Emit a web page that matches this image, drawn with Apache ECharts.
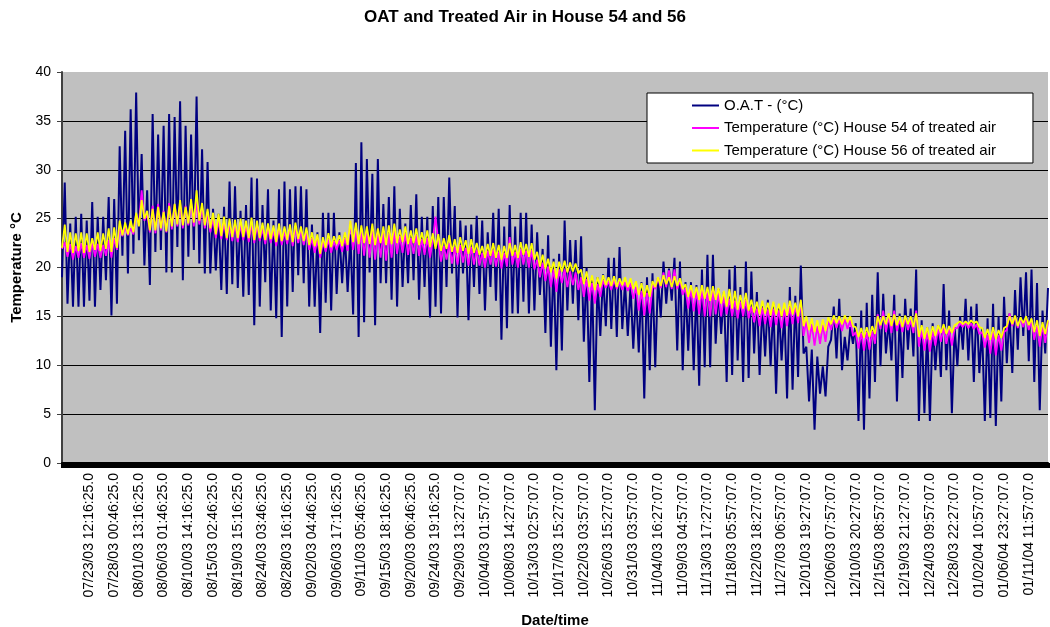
<!DOCTYPE html>
<html>
<head>
<meta charset="utf-8">
<script src="https://cdn.jsdelivr.net/npm/echarts@6/dist/echarts.min.js"></script>
<style>
  html, body { margin: 0; padding: 0; background: #fff; }
  #chart { width: 1050px; height: 627px; }
</style>
</head>
<body>
<div id="chart"></div>
<script>
// x axis tick labels (one every ~4.5 days)
const tickLabels = [
  "07/23/03 12:16:25.0", "07/28/03 00:46:25.0", "08/01/03 13:16:25.0", "08/06/03 01:46:25.0",
  "08/10/03 14:16:25.0", "08/15/03 02:46:25.0", "08/19/03 15:16:25.0", "08/24/03 03:46:25.0",
  "08/28/03 16:16:25.0", "09/02/03 04:46:25.0", "09/06/03 17:16:25.0", "09/11/03 05:46:25.0",
  "09/15/03 18:16:25.0", "09/20/03 06:46:25.0", "09/24/03 19:16:25.0", "09/29/03 13:27:07.0",
  "10/04/03 01:57:07.0", "10/08/03 14:27:07.0", "10/13/03 02:57:07.0", "10/17/03 15:27:07.0",
  "10/22/03 03:57:07.0", "10/26/03 15:27:07.0", "10/31/03 03:57:07.0", "11/04/03 16:27:07.0",
  "11/09/03 04:57:07.0", "11/13/03 17:27:07.0", "11/18/03 05:57:07.0", "11/22/03 18:27:07.0",
  "11/27/03 06:57:07.0", "12/01/03 19:27:07.0", "12/06/03 07:57:07.0", "12/10/03 20:27:07.0",
  "12/15/03 08:57:07.0", "12/19/03 21:27:07.0", "12/24/03 09:57:07.0", "12/28/03 22:27:07.0",
  "01/02/04 10:57:07.0", "01/06/04 23:27:07.0", "01/11/04 11:57:07.0"
];

// outdoor air temperature, two readings a day (night low / day high)
const oatTemp = [
  19.0, 28.7, 16.3, 24.5, 16.0, 25.2, 16.0, 25.5, 16.0, 24.8,
  16.6, 26.7, 16.0, 25.2, 17.7, 25.2, 18.7, 27.2, 15.1, 27.0,
  16.3, 32.4, 21.2, 34.0, 19.4, 36.2, 21.4, 37.9, 22.8, 31.6,
  20.2, 27.9, 18.2, 35.7, 21.6, 33.6, 21.8, 34.5, 19.5, 35.7,
  19.5, 35.4, 22.1, 37.0, 18.7, 34.5, 21.1, 33.6, 21.8, 37.5,
  20.4, 32.1, 19.4, 30.8, 19.4, 26.0, 19.7, 25.5, 17.7, 26.2,
  17.3, 28.8, 18.3, 28.3, 17.9, 25.8, 17.0, 26.4, 17.2, 29.2,
  14.1, 29.1, 16.0, 26.4, 18.5, 28.0, 15.6, 24.8, 14.8, 28.0,
  12.9, 28.8, 16.0, 28.0, 17.5, 28.3, 19.2, 28.3, 18.4, 28.0,
  16.0, 24.4, 16.0, 23.6, 13.3, 25.6, 16.4, 25.6, 15.6, 25.6,
  17.3, 23.6, 18.4, 23.4, 17.5, 23.4, 15.2, 30.7, 12.9, 32.8,
  14.4, 31.1, 19.5, 29.6, 14.1, 31.1, 18.4, 26.5, 18.4, 27.2,
  16.7, 28.3, 16.0, 26.0, 18.0, 24.5, 18.4, 26.4, 18.7, 27.5,
  16.7, 25.2, 18.0, 25.2, 14.9, 26.3, 16.0, 27.2, 15.3, 27.2,
  18.0, 29.2, 19.4, 26.3, 14.9, 24.8, 19.4, 24.3, 14.6, 24.4,
  18.0, 25.3, 17.3, 24.8, 15.6, 23.6, 18.0, 25.6, 16.6, 26.0,
  12.6, 24.2, 13.8, 26.4, 15.3, 24.2, 15.3, 25.6, 16.5, 25.6,
  15.3, 24.4, 15.6, 23.6, 17.2, 21.9, 13.3, 23.3, 11.9, 20.9,
  9.5, 21.4, 11.5, 24.8, 15.6, 22.8, 16.3, 22.8, 14.6, 23.2,
  12.4, 20.0, 8.3, 19.0, 5.4, 19.0, 13.0, 19.3, 14.0, 21.0,
  13.7, 21.0, 12.9, 22.1, 13.7, 18.5, 13.0, 18.2, 11.7, 17.5,
  11.3, 18.5, 6.6, 19.0, 9.5, 19.4, 9.8, 19.0, 14.9, 20.6,
  16.3, 19.9, 16.6, 21.0, 11.5, 20.6, 9.5, 18.5, 11.5, 18.5,
  9.5, 18.2, 7.9, 19.8, 9.8, 21.3, 9.8, 21.3, 12.2, 17.8,
  13.2, 17.5, 8.3, 19.8, 9.0, 20.2, 10.5, 18.0, 8.3, 20.6,
  8.7, 19.6, 11.2, 17.5, 9.0, 16.3, 10.9, 16.7, 9.9, 16.3,
  7.1, 16.0, 10.5, 15.6, 6.6, 18.0, 7.5, 17.1, 8.8, 20.2,
  11.2, 11.9, 6.3, 11.6, 3.4, 10.9, 7.1, 9.9, 6.8, 11.9,
  12.6, 16.0, 10.7, 16.8, 9.5, 12.9, 10.5, 13.9, 12.2, 14.3,
  4.3, 15.6, 3.4, 16.4, 6.6, 17.2, 8.3, 19.5, 9.9, 17.3,
  11.2, 14.6, 10.5, 17.2, 6.3, 15.3, 8.7, 16.8, 11.6, 15.8,
  10.9, 19.8, 4.3, 14.6, 5.1, 13.9, 4.3, 14.3, 9.5, 14.1,
  8.8, 18.3, 9.5, 15.6, 5.1, 13.9, 9.9, 15.0, 11.6, 16.8,
  10.5, 16.0, 8.3, 16.3, 9.2, 13.8, 4.3, 14.8, 4.6, 16.3,
  3.8, 15.0, 6.3, 17.0, 10.2, 15.3, 9.2, 17.7, 11.6, 19.0,
  13.0, 19.5, 10.4, 19.8, 8.3, 18.4, 5.4, 15.6, 11.2, 17.9
];

// treated air, house 54
const house54Temp = [
  21.9, 22.6, 21.1, 22.4, 20.8, 22.2, 21.0, 22.5, 21.0, 22.3,
  20.9, 22.6, 21.1, 22.4, 21.0, 22.3, 21.2, 22.8, 21.0, 23.0,
  21.8, 24.0, 23.2, 24.1, 23.3, 24.0, 23.4, 25.5, 24.4, 27.9,
  24.8, 25.5, 23.6, 26.3, 23.5, 26.5, 23.8, 25.8, 23.6, 26.6,
  23.9, 26.4, 24.2, 26.5, 24.0, 26.3, 24.3, 26.6, 24.2, 26.8,
  24.4, 26.2, 24.0, 25.6, 23.6, 25.0, 23.0, 24.9, 22.9, 24.6,
  22.8, 24.5, 22.7, 24.4, 22.6, 24.4, 22.8, 24.3, 22.6, 24.5,
  22.5, 24.3, 22.7, 24.0, 22.4, 24.0, 22.5, 23.8, 22.2, 24.1,
  22.3, 23.7, 22.4, 24.0, 22.2, 24.1, 22.5, 23.8, 22.3, 23.6,
  21.8, 23.0, 21.5, 22.8, 21.0, 22.6, 21.6, 22.9, 21.5, 22.7,
  21.8, 22.8, 21.6, 23.0, 21.7, 24.6, 21.8, 24.0, 21.4, 23.8,
  21.2, 23.7, 21.0, 23.9, 20.8, 23.5, 21.0, 23.6, 20.7, 23.5,
  21.0, 23.8, 21.4, 23.2, 21.5, 23.5, 21.3, 23.0, 21.4, 23.3,
  21.2, 22.9, 21.3, 23.0, 21.0, 22.8, 25.2, 22.6, 20.6, 22.2,
  20.8, 22.5, 20.4, 22.1, 20.3, 22.3, 20.5, 22.0, 20.2, 22.1,
  20.3, 21.8, 20.2, 21.5, 20.0, 21.7, 20.3, 21.8, 20.1, 21.6,
  19.9, 21.5, 20.1, 23.1, 20.3, 21.6, 20.0, 21.9, 20.3, 21.7,
  20.0, 21.8, 19.8, 20.8, 19.0, 20.5, 18.6, 20.1, 18.0, 19.8,
  17.5, 19.8, 18.4, 19.8, 18.0, 19.6, 18.2, 19.5, 17.7, 19.0,
  17.0, 18.8, 16.6, 18.4, 16.3, 18.3, 17.0, 18.7, 17.9, 18.6,
  17.7, 18.7, 17.8, 18.6, 17.7, 18.5, 17.6, 18.4, 16.8, 18.0,
  15.6, 17.6, 15.1, 17.4, 15.3, 18.2, 17.8, 19.0, 17.9, 19.5,
  18.0, 19.7, 17.8, 19.8, 17.8, 18.7, 17.2, 17.9, 15.8, 17.8,
  15.5, 17.6, 15.2, 17.8, 15.0, 17.5, 15.0, 17.6, 15.2, 17.4,
  15.0, 17.1, 15.2, 16.8, 15.0, 16.6, 14.8, 16.5, 15.0, 16.7,
  14.8, 16.0, 14.4, 15.8, 14.0, 15.9, 14.2, 15.7, 13.9, 15.8,
  14.1, 15.6, 13.8, 15.7, 14.0, 16.0, 14.2, 16.1, 14.3, 16.5,
  13.0, 14.5, 12.3, 14.2, 12.0, 14.0, 12.2, 14.1, 12.4, 14.6,
  13.6, 14.8, 13.8, 14.7, 13.5, 14.8, 13.7, 14.6, 13.0, 13.4,
  11.7, 13.3, 11.5, 13.4, 11.6, 13.5, 12.2, 15.2, 13.7, 15.6,
  13.4, 15.0, 13.3, 15.6, 13.5, 14.7, 13.4, 14.9, 13.6, 14.6,
  13.3, 15.6, 11.9, 13.6, 11.5, 13.4, 11.4, 13.5, 12.0, 13.8,
  12.4, 13.9, 12.2, 13.7, 12.0, 13.8, 13.8, 14.3, 13.9, 14.4,
  13.8, 14.3, 13.7, 14.2, 13.2, 13.4, 11.8, 13.2, 11.2, 13.4,
  11.0, 13.1, 11.5, 13.4, 13.6, 15.3, 14.0, 15.0, 13.8, 14.8,
  13.9, 14.9, 13.6, 14.6, 12.6, 14.0, 11.9, 14.1, 12.3, 14.5
];

// treated air, house 56
const house56Temp = [
  22.0, 24.4, 21.6, 23.6, 21.5, 23.5, 21.7, 23.6, 21.5, 23.5,
  21.6, 23.0, 21.8, 23.6, 21.7, 23.5, 21.9, 24.0, 21.6, 24.1,
  22.0, 24.8, 23.3, 24.6, 23.4, 24.8, 23.6, 25.6, 24.2, 26.9,
  25.0, 25.8, 23.8, 26.0, 23.8, 26.2, 24.0, 25.7, 23.7, 26.3,
  24.2, 26.5, 24.4, 26.9, 24.3, 26.2, 24.5, 27.0, 24.6, 27.9,
  24.8, 26.6, 24.3, 26.0, 24.0, 25.6, 23.4, 25.5, 23.2, 25.2,
  23.0, 25.0, 23.1, 24.9, 23.0, 25.0, 23.1, 24.8, 23.0, 25.1,
  22.8, 24.8, 23.0, 24.6, 22.8, 24.5, 22.9, 24.3, 22.6, 24.5,
  22.7, 24.2, 22.8, 24.4, 22.6, 24.6, 22.9, 24.2, 22.7, 24.1,
  22.3, 23.6, 22.2, 23.4, 21.4, 23.1, 22.0, 23.5, 22.1, 23.2,
  22.4, 23.3, 22.2, 23.6, 22.3, 24.8, 22.6, 24.6, 22.4, 24.3,
  22.5, 24.2, 22.4, 24.5, 22.3, 24.0, 22.5, 24.2, 22.3, 24.3,
  22.4, 24.5, 22.5, 23.9, 22.6, 24.2, 22.4, 23.8, 22.5, 24.0,
  22.3, 23.6, 22.4, 23.8, 22.1, 23.5, 21.9, 23.4, 21.7, 23.0,
  21.9, 23.3, 21.6, 22.9, 21.5, 23.1, 21.7, 22.8, 21.4, 22.9,
  21.5, 22.5, 21.3, 22.2, 21.0, 22.4, 21.2, 22.5, 21.0, 22.3,
  20.8, 22.2, 21.0, 22.5, 21.2, 22.3, 21.0, 22.6, 21.3, 22.4,
  21.1, 22.5, 20.8, 21.6, 20.1, 21.3, 19.9, 20.9, 19.5, 20.6,
  18.9, 20.6, 19.6, 20.7, 19.5, 20.5, 19.6, 20.4, 19.4, 19.8,
  18.3, 19.6, 18.0, 19.2, 17.7, 19.0, 18.0, 19.2, 18.2, 19.0,
  18.1, 19.1, 18.0, 18.9, 18.2, 19.0, 18.0, 18.9, 17.8, 18.6,
  17.2, 18.4, 17.0, 18.2, 17.0, 18.6, 18.0, 19.0, 18.1, 19.2,
  18.3, 19.0, 18.0, 19.1, 18.1, 18.9, 17.8, 18.3, 17.0, 18.2,
  16.9, 18.0, 16.7, 18.2, 16.8, 18.0, 16.6, 18.1, 16.7, 17.9,
  16.3, 17.6, 16.0, 17.8, 15.8, 17.6, 15.7, 17.2, 15.8, 17.4,
  15.6, 16.7, 15.4, 16.5, 15.2, 16.6, 15.3, 16.4, 15.1, 16.5,
  15.2, 16.3, 15.0, 16.4, 15.1, 16.6, 15.2, 16.4, 15.0, 16.7,
  14.0, 15.0, 13.6, 14.8, 13.4, 14.6, 13.3, 14.7, 13.5, 14.9,
  14.2, 15.1, 14.3, 15.0, 14.2, 15.1, 14.4, 15.0, 14.0, 13.9,
  12.9, 13.8, 12.8, 13.9, 12.9, 14.0, 13.2, 15.0, 14.1, 15.0,
  14.2, 15.3, 14.0, 15.2, 14.1, 15.0, 13.9, 15.1, 14.2, 15.0,
  13.9, 15.3, 12.9, 14.1, 12.7, 13.9, 12.6, 14.0, 13.0, 14.1,
  13.3, 14.2, 13.2, 14.0, 13.3, 14.1, 14.3, 14.5, 14.2, 14.5,
  14.2, 14.6, 14.3, 14.5, 13.9, 13.8, 12.8, 13.7, 12.6, 13.9,
  12.7, 13.6, 12.8, 13.8, 14.0, 15.0, 14.2, 15.1, 14.0, 14.9,
  14.3, 15.0, 14.1, 14.8, 13.4, 14.6, 13.0, 14.4, 13.2, 14.6
];

const seriesNames = [
  "O.A.T - (°C)",
  "Temperature (°C) House 54 of treated air",
  "Temperature (°C) House 56 of treated air"
];

// where the first tick label sits and how many readings lie between labels
const firstLabelSlot = 10;
const slotsPerLabel = 9;

const xCats = oatTemp.map((v, i) => String(i));
const labelAt = {};
tickLabels.forEach((t, k) => { labelAt[firstLabelSlot + k * slotsPerLabel] = t; });

const FONT = 'Arial, "Liberation Sans", sans-serif';

const chart = echarts.init(document.getElementById('chart'));

const option = {
  animation: false,
  backgroundColor: '#ffffff',
  title: {
    text: 'OAT and Treated Air in House 54 and 56',
    left: 'center',
    top: 4,
    textStyle: { fontFamily: FONT, fontSize: 17, fontWeight: 'bold', color: '#000' }
  },
  legend: {
    data: seriesNames,
    orient: 'vertical',
    left: 647,
    top: 93,
    backgroundColor: '#ffffff',
    borderColor: '#000',
    borderWidth: 1,
    borderRadius: 0,
    padding: [5, 37, 5, 45],
    itemGap: 7.5,
    itemWidth: 27,
    itemHeight: 2,
    icon: 'rect',
    textStyle: { fontFamily: FONT, fontSize: 15, color: '#000' }
  },
  grid: {
    left: 62,
    right: 2,
    top: 72,
    bottom: 164,
    outerBoundsMode: 'none',
    containLabel: false,
    show: true,
    backgroundColor: '#c0c0c0',
    borderWidth: 0
  },
  xAxis: {
    type: 'category',
    data: xCats,
    boundaryGap: false,
    name: 'Date/time',
    nameLocation: 'middle',
    nameGap: 150,
    nameTextStyle: { fontFamily: FONT, fontSize: 15, fontWeight: 'bold', color: '#000' },
    axisLine: { lineStyle: { color: '#000', width: 2 } },
    axisTick: { interval: 0, length: 5, lineStyle: { color: '#000', width: 3 } },
    axisLabel: {
      rotate: 90,
      margin: 10,
      interval: (idx) => labelAt[idx] !== undefined,
      formatter: (val, idx) => labelAt[idx] || '',
      fontFamily: FONT,
      fontSize: 14,
      color: '#000'
    },
    splitLine: { show: false }
  },
  yAxis: {
    type: 'value',
    min: 0,
    max: 40,
    interval: 5,
    name: 'Temperature °C',
    nameLocation: 'middle',
    nameRotate: 90,
    nameGap: 34,
    nameTextStyle: { fontFamily: FONT, fontSize: 15, fontWeight: 'bold', color: '#000' },
    axisLine: { show: true, lineStyle: { color: '#404040', width: 2 } },
    axisTick: { show: true, inside: false, length: 5, lineStyle: { color: '#404040' } },
    axisLabel: { margin: 11, fontFamily: FONT, fontSize: 14, color: '#000' },
    splitLine: { show: true, showMaxLine: false, lineStyle: { color: '#000', width: 1 } }
  },
  series: [
    {
      name: seriesNames[0],
      type: 'line',
      data: oatTemp,
      showSymbol: false,
      color: '#000080',
      lineStyle: { color: '#000080', width: 2 }
    },
    {
      name: seriesNames[1],
      type: 'line',
      data: house54Temp,
      showSymbol: false,
      color: '#ff00ff',
      lineStyle: { color: '#ff00ff', width: 1.8 }
    },
    {
      name: seriesNames[2],
      type: 'line',
      data: house56Temp,
      showSymbol: false,
      color: '#ffff00',
      lineStyle: { color: '#ffff00', width: 1.8 }
    }
  ]
};

chart.setOption(option);
</script>
</body>
</html>
